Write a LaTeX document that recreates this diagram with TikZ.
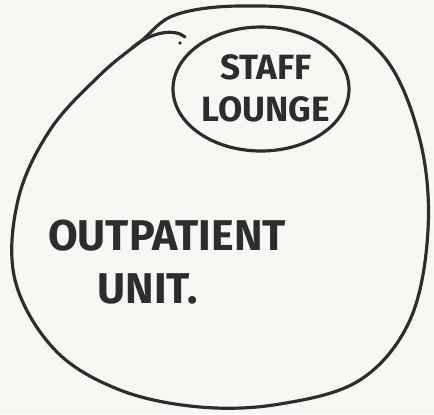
\documentclass[tikz,border=0pt]{standalone}
\usepackage{fontspec}
\setmainfont{Fira Sans}
\definecolor{ink}{HTML}{2A2E2E}
\definecolor{paper}{HTML}{F7F7F3}
\tikzset{
  pen/.style={draw=ink,line width=1.8pt,line cap=round,line join=round},
  lbl/.style={text=ink,font=\bfseries\fontsize{20}{24}\selectfont,align=center,inner sep=0pt}
}

\begin{document}
\begin{tikzpicture}[x=0.02cm,y=-0.02cm]
    \fill[paper] (0,0) rectangle (434,414);
    \useasboundingbox (0,0) rectangle (434,414);
    % outer unit
    \draw[pen] plot[smooth cycle,tension=0.6] coordinates {
      (175,15) (240,6) (320,14) (385,58) (420,140) (428,230) (410,320)
      (360,380) (280,404) (200,407) (120,390) (55,350) (15,280) (18,200)
      (50,130) (100,75) (140,42)};
    % little hook and dot at the top
    \draw[pen] (132,48) .. controls (150,32) and (175,28) .. (185,37);
    \fill[ink] (180,43) circle (1.8);
    % staff lounge
    \draw[pen] (261,89) ellipse (88 and 62);
    \node[lbl] (lounge) at (266,88) {STAFF\\LOUNGE};
    \node[lbl,align=left,font=\bfseries\fontsize{24.5}{30}\selectfont] (unit) at (167,262) {OUTPATIENT\\\hspace{1.15em}UNIT.};
\end{tikzpicture}
\end{document}
